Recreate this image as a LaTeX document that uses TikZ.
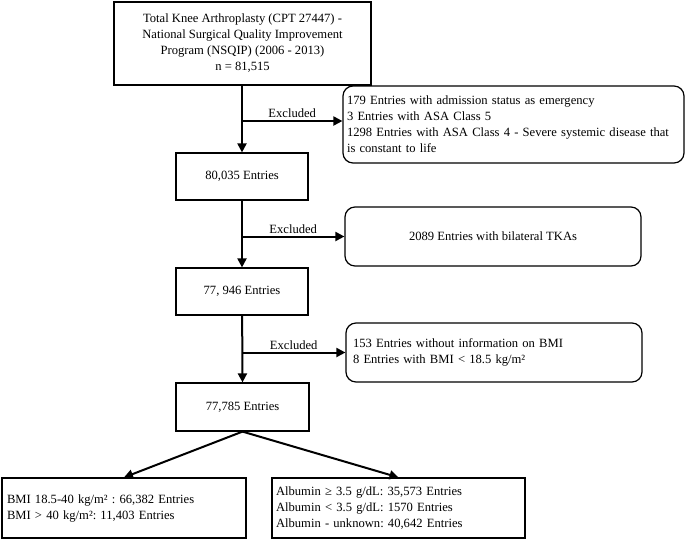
\documentclass[tikz,border=0pt]{standalone}
\usepackage{fontspec}
\setmainfont{Liberation Serif}
\usetikzlibrary{arrows.meta}
\frenchspacing
\begin{document}
\begin{tikzpicture}[x=1pt,y=-1pt,
  every node/.style={font=\fontsize{12.6}{16}\selectfont},
  sqbox/.style={draw, line width=1.2pt, inner sep=0pt, align=center},
  rbox/.style={draw, line width=1.2pt, rounded corners=10pt, inner ysep=0pt},
  arr/.style={line width=2pt, -{Triangle[length=9pt,width=9pt]}},
  lbl/.style={above, inner sep=2pt}]
\useasboundingbox (0,0) rectangle (685,541);
\node[sqbox, minimum width=257pt, minimum height=83pt] (top) at (242.5,43.5)
  {Total Knee Arthroplasty (CPT 27447) -\\National Surgical Quality Improvement\\Program (NSQIP) (2006 - 2013)\\n = 81,515};
\node[rbox, inner xsep=4pt, text width=333pt, align=left, minimum height=77pt] (ex1) at (513.5,124.5)
  {179 Entries with admission status as emergency\\3 Entries with ASA Class 5\\1298 Entries with ASA Class 4 - Severe systemic disease that\\is constant to life};
\node[sqbox, minimum width=132pt, minimum height=47pt] (n1) at (242,176.5) {80,035 Entries};
\node[rbox, inner xsep=0pt, minimum width=296pt, minimum height=59pt, align=center] (ex2) at (493,236.5)
  {2089 Entries with bilateral TKAs};
\node[sqbox, minimum width=132pt, minimum height=47pt] (n2) at (242,291.5) {77, 946 Entries};
\node[rbox, inner xsep=7pt, text width=282pt, align=left, minimum height=59pt] (ex3) at (494,352.5)
  {153 Entries without information on BMI\\8 Entries with BMI < 18.5 kg/m²};
\node[sqbox, minimum width=133pt, minimum height=48pt] (n3) at (242.5,407) {77,785 Entries};
\node[draw, line width=1.2pt, inner ysep=0pt, inner xsep=5pt, text width=234pt, align=left, minimum height=60pt] (bl) at (124,508)
  {BMI 18.5-40 kg/m² : 66,382 Entries\\BMI > 40 kg/m²: 11,403 Entries};
\node[draw, line width=1.2pt, inner ysep=0pt, inner xsep=4pt, text width=245pt, align=left, minimum height=60pt] (br) at (398.5,508)
  {Albumin ≥ 3.5 g/dL: 35,573 Entries\\Albumin < 3.5 g/dL: 1570 Entries\\Albumin - unknown: 40,642 Entries};
\draw[arr] (top.south -| n1) -- (n1.north);
\draw[arr] (n1) -- (n2.north);
\draw[arr] (n2) -- (n3.north);
\coordinate (j1) at (242,121);
\coordinate (j2) at (242,236.5);
\coordinate (j3) at (242,352.5);
\draw[arr] (j1) -- node[lbl] (l1) {Excluded} (j1 -| ex1.west);
\draw[arr] (j2) -- node[lbl] (l2) {Excluded} (j2 -| ex2.west);
\draw[arr] (j3) -- node[lbl] (l3) {Excluded} (j3 -| ex3.west);
\draw[arr] (n3.south) -- (bl.north);
\draw[arr] (n3.south) -- (br.north);
\end{tikzpicture}
\end{document}
